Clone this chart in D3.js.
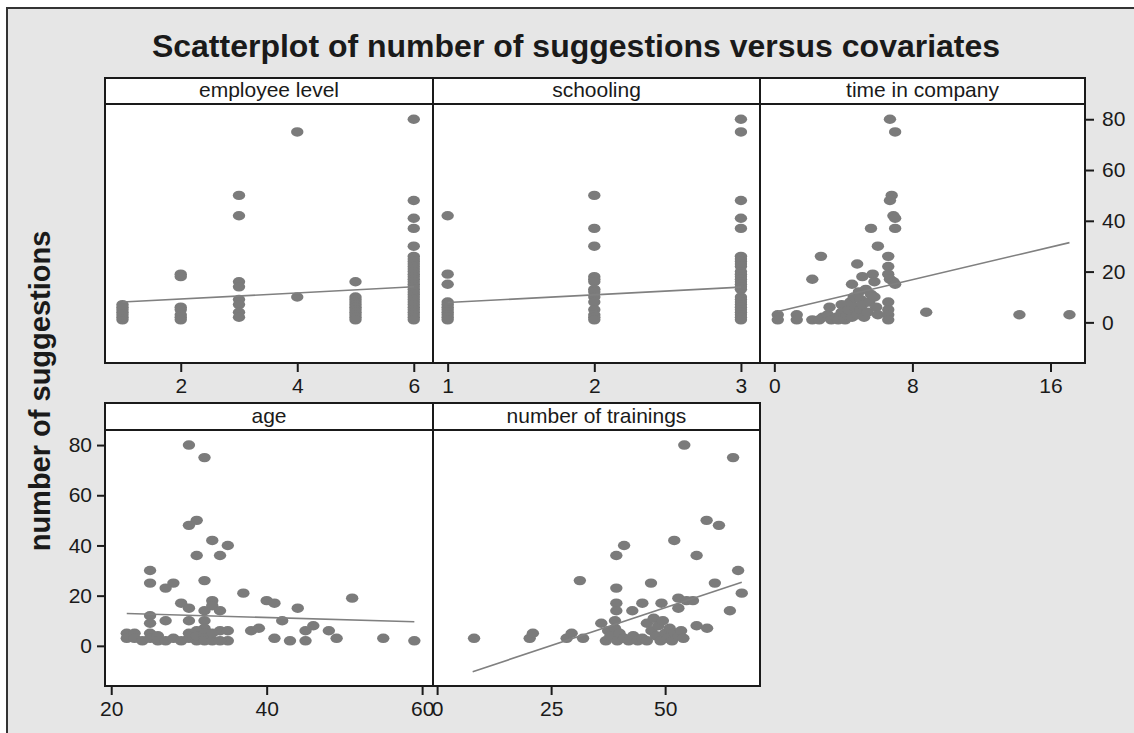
<!DOCTYPE html>
<html>
<head>
<meta charset="utf-8">
<script src="https://cdn.jsdelivr.net/npm/d3@7"></script>
<style>
  body { margin: 0; background: #fff; }
  text { font-family: "Liberation Sans", Arial, sans-serif; fill: #1a1a1a; }
</style>
</head>
<body>
<div class="chart"></div>
<script>
// number of suggestions (y) against each covariate (x)
var levelPts = [
  [1,1],[1,2],[1,3],[1,4],[1,5],[1,6],[1,7],
  [2,19],[2,18],[2,6],[2,5],[2,3],[2,2],[2,1],
  [3,50],[3,42],[3,16],[3,14],[3,9],[3,7],[3,4],[3,2],
  [4,75],[4,10],
  [5,16],[5,10],[5,9],[5,8],[5,7],[5,6],[5,5],[5,4],[5,3],[5,2],[5,1],
  [6,80],[6,48],[6,41],[6,37],[6,30],[6,26],[6,25],[6,24],[6,23],[6,22],[6,21],[6,20],
  [6,19],[6,18],[6,17],[6,16],[6,15],[6,14],[6,13],[6,12],[6,11],[6,10],[6,9],[6,8],
  [6,7],[6,6],[6,5],[6,4],[6,3],[6,2],[6,1]
];
var schoolingPts = [
  [1,42],[1,19],[1,15],[1,8],[1,7],[1,6],[1,5],[1,4],[1,3],[1,2],[1,1],
  [2,50],[2,37],[2,30],[2,18],[2,17],[2,16],[2,13],[2,12],[2,10],[2,8],[2,5],[2,3],[2,2],[2,1],
  [3,80],[3,75],[3,48],[3,41],[3,37],[3,26],[3,25],[3,24],[3,23],[3,22],[3,20],[3,19],[3,18],
  [3,17],[3,16],[3,15],[3,14],[3,13],[3,10],[3,9],[3,8],[3,7],[3,6],[3,5],[3,4],[3,3],[3,2],[3,1]
];
var timePts = [
  [0.2,3],[0.2,1],[1.3,3],[1.3,1],[2.2,1],[2.6,1],[2.8,2],[3.1,3],[3.2,6],[3.3,1],[3.6,2],
  [3.7,1],[3.9,7],[3.9,4],[4.1,1],[4.2,3],[4.3,5],[4.4,8],[4.5,2],[4.5,15],[4.6,10],[4.7,6],
  [4.8,3],[4.8,23],[4.9,12],[5.0,9],[5.0,5],[5.1,7],[5.1,18],[5.2,2],[5.3,13],[5.4,4],[5.5,8],
  [5.6,37],[5.6,11],[5.7,19],[5.8,16],[5.8,10],[5.9,6],[6.0,3],[6.0,30],[2.2,17],[2.7,26],
  [6.6,26],[6.6,22],[6.6,19],[6.7,17],[6.9,16],[7.0,15],[6.6,8],[6.6,5],[6.6,3],[6.6,1],
  [6.7,80],[7.0,75],[6.8,50],[6.7,48],[6.9,42],[7.0,41],[7.0,37],[8.8,4],[14.2,3],[17.1,3]
];
var agePts = [
  [30,80],[32,75],[31,50],[30,48],[33,42],[35,40],[31,36],[34,36],[25,30],[32,26],[28,25],
  [25,25],[27,23],[37,21],[51,19],[29,17],[30,15],[40,18],[41,17],[44,15],[33,18],[33,16],
  [34,14],[32,14],[25,12],[25,9],[27,10],[30,10],[32,10],[32,7],[42,10],[34,6],[35,6],[38,6],
  [39,7],[46,8],[45,6],[48,6],[49,3],[41,3],[43,2],[45,2],[55,3],[59,2],[35,2],
  [22,5],[22,3],[23,5],[23,3],[24,2],[25,5],[25,3],[26,4],[26,2],[27,2],[28,3],[29,2],[30,3],
  [30,5],[31,2],[31,6],[31,4],[32,5],[32,3],[32,2],[33,2],[33,5],[34,2]
];
var trainingPts = [
  [54.2,80],[64.9,75],[59.1,50],[61.8,48],[52,42],[41,40],[39.3,36],[56.9,36],[31.3,26],[66,30],
  [46.9,25],[39.3,23],[60.9,25],[66.8,21],[39.3,17],[39.3,14],[42.8,14],[45,17],[49.2,17],
  [52.9,19],[52.9,15],[54.7,18],[56.1,18],[64.2,14],[56.9,8],[59.2,7],[8.1,3],[20.3,3],[21,5],
  [28.4,3],[29.5,5],[32,3],
  [36,9],[37,2],[37.5,6],[38,4],[39,10],[39,7],[39.5,2],[40,5],[41,3],[42,2],[43,4],[44,2],
  [45,3],[46,2],[46,9],[47,6],[47.5,11],[48,4],[48.5,8],[49,2],[49.5,10],[50,5],[50.5,3],
  [51,7],[51.5,2],[52,5],[53,4],[53.5,6],[54,3]
];

// fitted regression lines (end points)
var levelFit = [[1, 8.0], [6, 14.0]];
var schoolingFit = [[1, 7.8], [3, 13.9]];
var timeFit = [[0.2, 4.3], [17.1, 31.4]];
var ageFit = [[22, 12.9], [59, 9.6]];
var trainingFit = [[7.8, -10.3], [66.8, 25.3]];

// tick labels
var levelTicks = [2, 4, 6];
var schoolingTicks = [1, 2, 3];
var timeTicks = [0, 8, 16];
var ageTicks = [20, 40, 60];
var trainingTicks = [0, 25, 50];
var yTicks = [0, 20, 40, 60, 80];

var panelTitles = ['employee level', 'schooling', 'time in company', 'age', 'number of trainings'];

var width = 1134, height = 733;
var svg = d3.select('.chart').append('svg')
  .attr('width', width)
  .attr('height', height);

// grey background with frame
svg.append('rect')
  .attr('x', 7).attr('y', 8)
  .attr('width', 1140).attr('height', 740)
  .attr('fill', '#e6e6e6')
  .attr('stroke', '#333').attr('stroke-width', 2);

svg.append('text')
  .attr('x', 576).attr('y', 57)
  .attr('text-anchor', 'middle')
  .style('font-size', '32px').style('font-weight', 'bold')
  .text('Scatterplot of number of suggestions versus covariates');

svg.append('text')
  .attr('transform', 'translate(50,391) rotate(-90)')
  .attr('text-anchor', 'middle')
  .style('font-size', '29px').style('font-weight', 'bold')
  .text('number of suggestions');

// panel boxes: left, right, header top, plot top, plot bottom
var panels = [
  { pts: levelPts, fit: levelFit, ticks: levelTicks, dom: [0.7, 6.33], x0: 105, x1: 433, top: 78, y0: 104, y1: 363 },
  { pts: schoolingPts, fit: schoolingFit, ticks: schoolingTicks, dom: [0.9, 3.13], x0: 433, x1: 760, top: 78, y0: 104, y1: 363 },
  { pts: timePts, fit: timeFit, ticks: timeTicks, dom: [-0.83, 18.0], x0: 760, x1: 1085, top: 78, y0: 104, y1: 363, yAxis: 'right' },
  { pts: agePts, fit: ageFit, ticks: ageTicks, dom: [19.2, 61.4], x0: 105, x1: 433, top: 403, y0: 430, y1: 686, yAxis: 'left' },
  { pts: trainingPts, fit: trainingFit, ticks: trainingTicks, dom: [-0.9, 70.8], x0: 433, x1: 760, top: 403, y0: 430, y1: 686 }
];

function styleAxis(g) {
  g.select('.domain').remove();
  g.selectAll('.tick line').attr('stroke', '#1a1a1a').attr('stroke-width', 2);
  g.selectAll('.tick text').style('font-size', '21px').attr('fill', '#1a1a1a');
}

panels.forEach(function(p, i) {
  var x = d3.scaleLinear().domain(p.dom).range([p.x0, p.x1]);
  var y = d3.scaleLinear().domain([-16, 86]).range([p.y1, p.y0]);

  // axes first so the boxes sit on top of tick roots
  svg.append('g')
    .attr('transform', 'translate(0,' + p.y1 + ')')
    .call(d3.axisBottom(x).tickValues(p.ticks).tickSize(9).tickPadding(6).tickFormat(d3.format('d')))
    .call(styleAxis);

  if (p.yAxis === 'right') {
    svg.append('g')
      .attr('transform', 'translate(' + p.x1 + ',0)')
      .call(d3.axisRight(y).tickValues(yTicks).tickSize(9).tickPadding(8))
      .call(styleAxis);
  } else if (p.yAxis === 'left') {
    svg.append('g')
      .attr('transform', 'translate(' + p.x0 + ',0)')
      .call(d3.axisLeft(y).tickValues(yTicks).tickSize(8).tickPadding(5))
      .call(styleAxis);
  }

  // header strip
  svg.append('rect')
    .attr('x', p.x0).attr('y', p.top)
    .attr('width', p.x1 - p.x0).attr('height', p.y0 - p.top)
    .attr('fill', '#fff').attr('stroke', '#1a1a1a').attr('stroke-width', 2);
  svg.append('text')
    .attr('x', (p.x0 + p.x1) / 2).attr('y', p.y0 - 7)
    .attr('text-anchor', 'middle')
    .style('font-size', '21px')
    .text(panelTitles[i]);

  // plot area
  svg.append('rect')
    .attr('x', p.x0).attr('y', p.y0)
    .attr('width', p.x1 - p.x0).attr('height', p.y1 - p.y0)
    .attr('fill', '#fff').attr('stroke', '#1a1a1a').attr('stroke-width', 2);

  svg.append('g').selectAll('ellipse')
    .data(p.pts)
    .enter()
      .append('ellipse')
      .attr('cx', function(d) { return x(d[0]); })
      .attr('cy', function(d) { return y(d[1]); })
      .attr('rx', 6.2)
      .attr('ry', 4.7)
      .attr('fill', '#7b7b7b');

  svg.append('path')
    .datum(p.fit)
    .attr('d', d3.line().x(function(d) { return x(d[0]); }).y(function(d) { return y(d[1]); }))
    .attr('fill', 'none')
    .attr('stroke', '#808080')
    .attr('stroke-width', 1.6);
});
</script>
</body>
</html>
